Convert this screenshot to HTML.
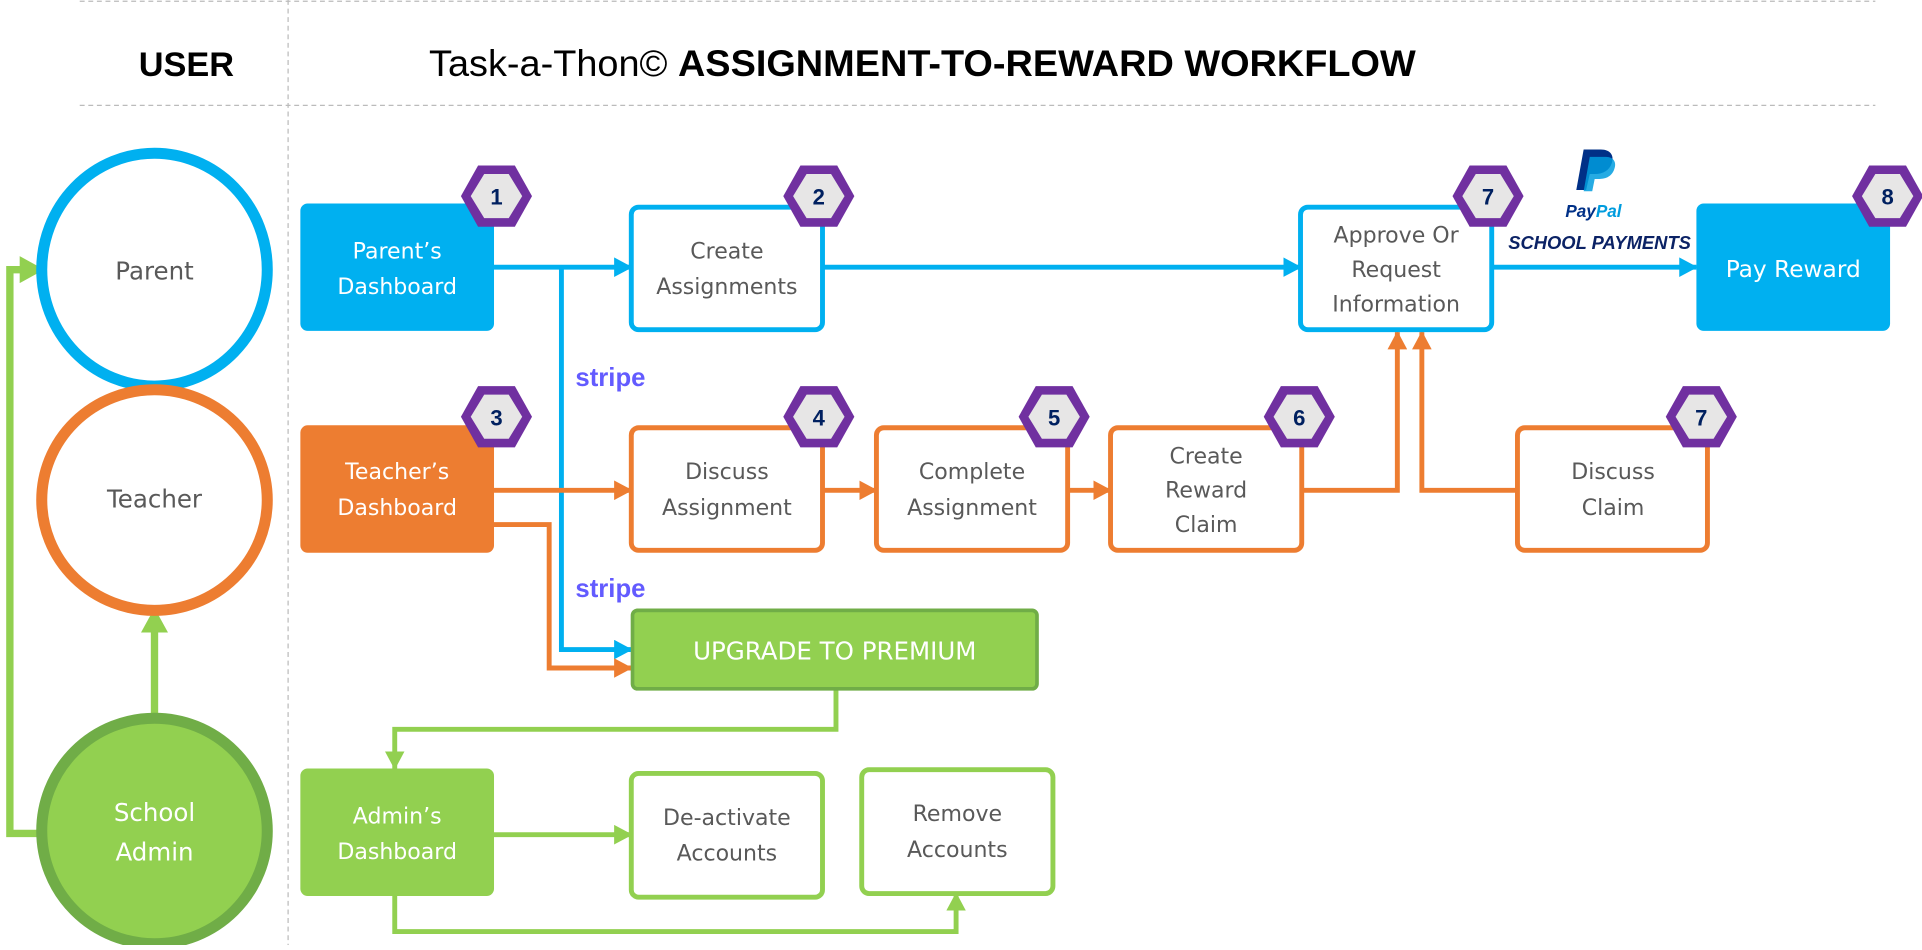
<!DOCTYPE html>
<html><head><meta charset="utf-8"><style>html,body{margin:0;padding:0;background:#fff;overflow:hidden}</style></head>
<body>
<svg width="1922" height="945" viewBox="0 0 1568 771" xmlns="http://www.w3.org/2000/svg" font-family="'Liberation Sans', sans-serif">
<defs>
<marker id="ab" markerWidth="15" markerHeight="16" refX="14" refY="8" orient="auto" markerUnits="userSpaceOnUse"><path d="M0,0 L15,8 L0,16 z" fill="#00B0F0"/></marker>
<marker id="ao" markerWidth="15" markerHeight="16" refX="14" refY="8" orient="auto" markerUnits="userSpaceOnUse"><path d="M0,0 L15,8 L0,16 z" fill="#ED7D31"/></marker>
<marker id="ag" markerWidth="15" markerHeight="16" refX="14" refY="8" orient="auto" markerUnits="userSpaceOnUse"><path d="M0,0 L15,8 L0,16 z" fill="#92D050"/></marker>
<marker id="ag2" markerWidth="20" markerHeight="22" refX="19" refY="11" orient="auto" markerUnits="userSpaceOnUse"><path d="M0,0 L20,11 L0,22 z" fill="#92D050"/></marker>
<g id="hx"><polygon points="-29,0 -15,-25 15,-25 29,0 15,25 -15,25" fill="#7030A0"/><polygon points="-21,0 -10,-18 10,-18 21,0 10,18 -10,18" fill="#E7E6E6"/></g>
</defs>
<g stroke="#bbb" stroke-dasharray="4,3" stroke-width="1">
<line x1="65" y1="1" x2="1530" y2="1"/><line x1="65" y1="86" x2="1530" y2="86"/><line x1="235" y1="0" x2="235" y2="771"/>
</g>
<text x="152" y="62" font-size="28" font-weight="bold" text-anchor="middle">USER</text>
<text x="350" y="62" font-size="30" textLength="805" lengthAdjust="spacingAndGlyphs">Task-a-Thon© <tspan font-weight="bold">ASSIGNMENT-TO-REWARD WORKFLOW</tspan></text>

<g stroke="#92D050" stroke-width="6" fill="none">
<polyline points="35,680 8,680 8,220 35,220" marker-end="url(#ag2)"/>
<line x1="126" y1="590" x2="126" y2="497" marker-end="url(#ag2)"/>
</g>
<ellipse cx="126" cy="220" rx="92" ry="95" fill="#fff" stroke="#00B0F0" stroke-width="9"/>
<ellipse cx="126" cy="408" rx="92" ry="90" fill="#fff" stroke="#ED7D31" stroke-width="9"/>
<ellipse cx="126" cy="678" rx="92" ry="92" fill="#92D050" stroke="#70AD47" stroke-width="9"/>
<g font-family="'DejaVu Sans', sans-serif" font-size="20" text-anchor="middle">
<text x="126" y="228" fill="#595959">Parent</text>
<text x="126" y="414" fill="#595959">Teacher</text>
<text x="126" y="670" fill="#fff">School</text><text x="126" y="702" fill="#fff">Admin</text>
</g>

<g fill="none" stroke-width="4">
<line x1="403" y1="218" x2="515" y2="218" stroke="#00B0F0" marker-end="url(#ab)"/>
<polyline points="458,218 458,530 515,530" stroke="#00B0F0" marker-end="url(#ab)"/>
<line x1="671" y1="218" x2="1061" y2="218" stroke="#00B0F0" marker-end="url(#ab)"/>
<line x1="1217" y1="218" x2="1384" y2="218" stroke="#00B0F0" marker-end="url(#ab)"/>
<line x1="403" y1="400" x2="515" y2="400" stroke="#ED7D31" marker-end="url(#ao)"/>
<line x1="671" y1="400" x2="715" y2="400" stroke="#ED7D31" marker-end="url(#ao)"/>
<line x1="871" y1="400" x2="906" y2="400" stroke="#ED7D31" marker-end="url(#ao)"/>
<polyline points="1062,400 1140,400 1140,271" stroke="#ED7D31" marker-end="url(#ao)"/>
<polyline points="1238,400 1160,400 1160,271" stroke="#ED7D31" marker-end="url(#ao)"/>
<polyline points="403,428 448,428 448,545 515,545" stroke="#ED7D31" marker-end="url(#ao)"/>
<polyline points="682,563 682,595 322,595 322,627" stroke="#92D050" marker-end="url(#ag)"/>
<line x1="403" y1="681" x2="515" y2="681" stroke="#92D050" marker-end="url(#ag)"/>
<polyline points="322,731 322,760 780,760 780,729" stroke="#92D050" marker-end="url(#ag)"/>
</g>

<g font-family="'DejaVu Sans', sans-serif" font-size="18" text-anchor="middle">
<rect x="245" y="166" width="158" height="104" rx="6" fill="#00B0F0"/>
<text x="324" y="211" fill="#fff">Parent’s</text><text x="324" y="240" fill="#fff">Dashboard</text>
<rect x="515" y="169" width="156" height="100" rx="6" fill="#fff" stroke="#00B0F0" stroke-width="4"/>
<text x="593" y="211" fill="#595959">Create</text><text x="593" y="240" fill="#595959">Assignments</text>
<rect x="1061" y="169" width="156" height="100" rx="6" fill="#fff" stroke="#00B0F0" stroke-width="4"/>
<text x="1139" y="198" fill="#595959">Approve Or</text><text x="1139" y="226" fill="#595959">Request</text><text x="1139" y="254" fill="#595959">Information</text>
<rect x="1384" y="166" width="158" height="104" rx="6" fill="#00B0F0"/>
<text x="1463" y="226" fill="#fff" font-size="19">Pay Reward</text>

<rect x="245" y="347" width="158" height="104" rx="6" fill="#ED7D31"/>
<text x="324" y="391" fill="#fff">Teacher’s</text><text x="324" y="420" fill="#fff">Dashboard</text>
<rect x="515" y="349" width="156" height="100" rx="6" fill="#fff" stroke="#ED7D31" stroke-width="4"/>
<text x="593" y="391" fill="#595959">Discuss</text><text x="593" y="420" fill="#595959">Assignment</text>
<rect x="715" y="349" width="156" height="100" rx="6" fill="#fff" stroke="#ED7D31" stroke-width="4"/>
<text x="793" y="391" fill="#595959">Complete</text><text x="793" y="420" fill="#595959">Assignment</text>
<rect x="906" y="349" width="156" height="100" rx="6" fill="#fff" stroke="#ED7D31" stroke-width="4"/>
<text x="984" y="378" fill="#595959">Create</text><text x="984" y="406" fill="#595959">Reward</text><text x="984" y="434" fill="#595959">Claim</text>
<rect x="1238" y="349" width="155" height="100" rx="6" fill="#fff" stroke="#ED7D31" stroke-width="4"/>
<text x="1316" y="391" fill="#595959">Discuss</text><text x="1316" y="420" fill="#595959">Claim</text>

<rect x="516" y="498" width="330" height="64" rx="4" fill="#92D050" stroke="#70AD47" stroke-width="3"/>
<text x="681" y="538" fill="#fff" font-size="20">UPGRADE TO PREMIUM</text>

<rect x="245" y="627" width="158" height="104" rx="6" fill="#92D050"/>
<text x="324" y="672" fill="#fff">Admin’s</text><text x="324" y="701" fill="#fff">Dashboard</text>
<rect x="515" y="631" width="156" height="101" rx="6" fill="#fff" stroke="#92D050" stroke-width="4"/>
<text x="593" y="673" fill="#595959">De-activate</text><text x="593" y="702" fill="#595959">Accounts</text>
<rect x="703" y="628" width="156" height="101" rx="6" fill="#fff" stroke="#92D050" stroke-width="4"/>
<text x="781" y="670" fill="#595959">Remove</text><text x="781" y="699" fill="#595959">Accounts</text>
</g>

<g font-size="18" font-weight="bold" fill="#002060" text-anchor="middle">
<use href="#hx" x="405" y="160"/><text x="405" y="167">1</text>
<use href="#hx" x="668" y="160"/><text x="668" y="167">2</text>
<use href="#hx" x="1214" y="160"/><text x="1214" y="167">7</text>
<use href="#hx" x="1540" y="160"/><text x="1540" y="167">8</text>
<use href="#hx" x="405" y="340"/><text x="405" y="347">3</text>
<use href="#hx" x="668" y="340"/><text x="668" y="347">4</text>
<use href="#hx" x="860" y="340"/><text x="860" y="347">5</text>
<use href="#hx" x="1060" y="340"/><text x="1060" y="347">6</text>
<use href="#hx" x="1388" y="340"/><text x="1388" y="347">7</text>
</g>

<text x="498" y="315" font-size="21" font-weight="bold" fill="#635BFF" text-anchor="middle">stripe</text>
<text x="498" y="487" font-size="21" font-weight="bold" fill="#635BFF" text-anchor="middle">stripe</text>

<path d="M1292,122 h14 c8,0 11,5 9,11 c-2,6 -7,9 -14,9 h-4 l-3,13 h-8 z" fill="#003087"/>
<path d="M1297,128 h13 c7,0 9,5 7,10 c-2,6 -7,8 -12,8 h-4 l-2,10 h-7 z" fill="#009CDE" opacity="0.85"/>
<text x="1300" y="177" font-size="14" font-weight="bold" font-style="italic" fill="#003087" text-anchor="middle">Pay<tspan fill="#009CDE">Pal</tspan></text>
<text x="1305" y="203" font-size="15" font-weight="bold" font-style="italic" fill="#0B2265" text-anchor="middle">SCHOOL PAYMENTS</text>
</svg>
</body></html>
